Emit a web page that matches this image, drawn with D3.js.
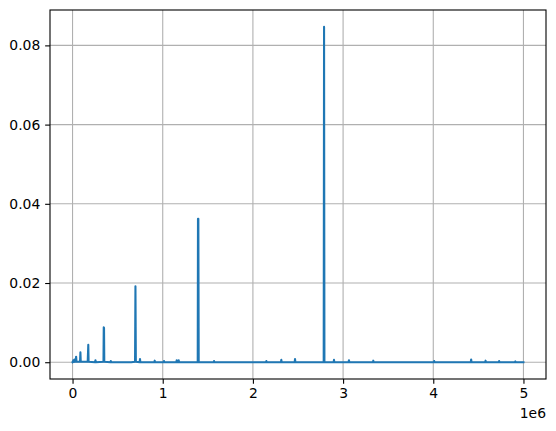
<!DOCTYPE html>
<html><head><meta charset="utf-8">
<script src="https://cdn.jsdelivr.net/npm/d3@7"></script>
<style>body{margin:0;background:#fff}svg{display:block}text{font-family:"DejaVu Sans",sans-serif}</style>
</head><body>
<svg id="c" width="556" height="431"></svg>
<script>
// x values (Hz) and magnitude values
const freqs = [0, 0.004e6, 0.009e6, 0.014e6, 0.018e6, 0.022e6, 0.026e6, 0.035e6, 0.0395e6, 0.044e6,
  0.083e6, 0.0872e6, 0.091e6, 0.168e6, 0.1745e6, 0.178e6, 0.25e6, 0.254e6, 0.258e6,
  0.343e6, 0.346e6, 0.349e6, 0.352e6, 0.42e6, 0.424e6, 0.428e6, 0.65e6, 0.693e6, 0.6975e6, 0.702e6,
  0.744e6, 0.748e6, 0.752e6, 0.907e6, 0.911e6, 0.915e6, 1.01e6, 1.014e6, 1.018e6,
  1.151e6, 1.155e6, 1.16e6, 1.173e6, 1.177e6, 1.181e6, 1.388e6, 1.391e6, 1.395e6, 1.399e6,
  1.565e6, 1.569e6, 1.573e6, 2.145e6, 2.149e6, 2.153e6, 2.311e6, 2.315e6, 2.319e6,
  2.463e6, 2.467e6, 2.471e6, 2.785e6, 2.789e6, 2.793e6, 2.895e6, 2.899e6, 2.903e6,
  3.061e6, 3.065e6, 3.069e6, 3.331e6, 3.335e6, 3.339e6, 4.006e6, 4.01e6, 4.014e6,
  4.416e6, 4.42e6, 4.424e6, 4.576e6, 4.58e6, 4.584e6, 4.726e6, 4.73e6, 4.734e6,
  4.906e6, 4.91e6, 4.914e6, 5.0e6];
const power = [0, 0.00005, 0.0005, 0.00005, 0.0001, 0.0007, 0.0001, 0.0001, 0.0014, 0.0001,
  0.0001, 0.0025, 0.0001, 0.0001, 0.0044, 0.0001, 0.0, 0.0005, 0.0,
  0.0001, 0.0088, 0.0087, 0.0001, 0.0, 0.0003, 0.0, 0.0, 0.0001, 0.0192, 0.0001,
  0.0, 0.0008, 0.0, 0.0, 0.0004, 0.0, 0.0, 0.0003, 0.0,
  0.0, 0.0005, 0.0, 0.0, 0.0005, 0.0, 0.0, 0.0362, 0.0362, 0.0,
  0.0, 0.0003, 0.0, 0.0, 0.0003, 0.0, 0.0, 0.0006, 0.0,
  0.0, 0.0008, 0.0, 0.0, 0.0847, 0.0, 0.0, 0.0006, 0.0,
  0.0, 0.0005, 0.0, 0.0, 0.0004, 0.0, 0.0, 0.0003, 0.0,
  0.0, 0.0007, 0.0, 0.0, 0.0004, 0.0, 0.0, 0.0003, 0.0,
  0.0, 0.0002, 0.0, 0.0];
const xTicks = [0, 1e6, 2e6, 3e6, 4e6, 5e6];
const xTickLabels = ["0", "1", "2", "3", "4", "5"];
const yTicks = [0, 0.02, 0.04, 0.06, 0.08];
const yTickLabels = ["0.00", "0.02", "0.04", "0.06", "0.08"];
const offsetLabel = "1e6";

const svg = d3.select("#c");
const L = 50, R = 546, T = 10, B = 379;
const xMin = d3.min(freqs), xMax = d3.max(freqs), xPad = (xMax - xMin) * 0.05;
const yMin = d3.min(power), yMax = d3.max(power), yPad = (yMax - yMin) * 0.05;
const x = d3.scaleLinear().domain([xMin - xPad, xMax + xPad]).range([L, R]);
const y = d3.scaleLinear().domain([yMin - yPad, yMax + yPad]).range([B, T]);

const grid = svg.append("g");
grid.selectAll(".gx").data(xTicks).join("line")
  .attr("x1", d => x(d)).attr("x2", d => x(d)).attr("y1", T).attr("y2", B)
  .attr("stroke", "#b0b0b0").attr("stroke-width", 1.1);
grid.selectAll(".gy").data(yTicks).join("line")
  .attr("y1", d => y(d)).attr("y2", d => y(d)).attr("x1", L).attr("x2", R)
  .attr("stroke", "#b0b0b0").attr("stroke-width", 1.1);

const pts = freqs.map((f, i) => [f, power[i]]);
svg.append("path").datum(pts)
  .attr("d", d3.line().x(d => x(d[0])).y(d => y(d[1])))
  .attr("fill", "none").attr("stroke", "#1f77b4").attr("stroke-width", 2.08)
  .attr("stroke-linejoin", "round").attr("stroke-linecap", "square");

const xAxis = d3.axisBottom(x).tickValues(xTicks).tickFormat((d, i) => xTickLabels[i])
  .tickSizeInner(4.86).tickSizeOuter(0).tickPadding(4.2);
const yAxis = d3.axisLeft(y).tickValues(yTicks).tickFormat((d, i) => yTickLabels[i])
  .tickSizeInner(4.86).tickSizeOuter(0).tickPadding(4.86);
const gx = svg.append("g").attr("transform", `translate(0,${B})`).call(xAxis);
const gy = svg.append("g").attr("transform", `translate(${L},0)`).call(yAxis);
[gx, gy].forEach(g => {
  g.select(".domain").remove();
  g.selectAll(".tick line").attr("stroke", "#000").attr("stroke-width", 1.1);
  g.selectAll(".tick text").attr("fill", "#000").style("font-size", "13.9px").style("font-family", "DejaVu Sans");
});

svg.append("rect").attr("x", L).attr("y", T).attr("width", R - L).attr("height", B - T)
  .attr("fill", "none").attr("stroke", "#000").attr("stroke-width", 1.1);

svg.append("text").attr("x", R).attr("y", 418).attr("text-anchor", "end")
  .style("font-size", "13.9px").attr("fill", "#000").text(offsetLabel);
</script>
</body></html>
